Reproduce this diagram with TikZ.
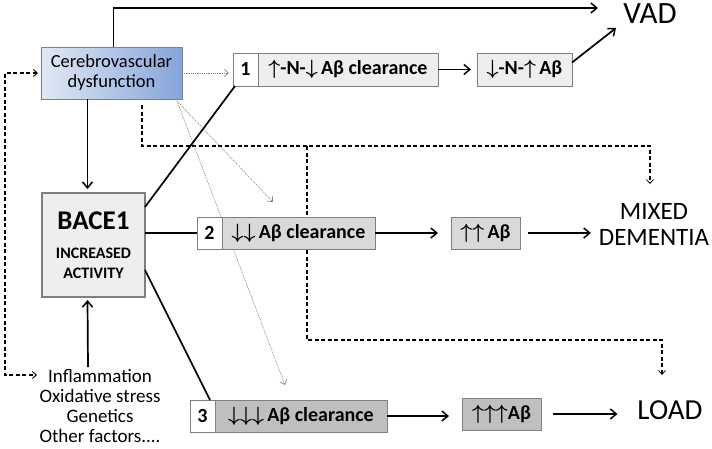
\documentclass[tikz,border=0pt]{standalone}
\usepackage{fontspec}
\setmainfont{Carlito}
\usetikzlibrary{arrows.meta,backgrounds}
\newcommand{\myup}{{\boldmath$\uparrow$}}
\newcommand{\mydn}{{\boldmath$\downarrow$}}
\definecolor{boxline}{HTML}{7F7F7F}
\definecolor{fillA}{HTML}{EEEEEE}
\definecolor{fillB}{HTML}{D9D9D9}
\definecolor{fillC}{HTML}{BFBFBF}
\definecolor{blueL}{HTML}{E0E9F6}
\definecolor{blueR}{HTML}{86A4DA}
\tikzset{
  x=1pt,y=-1pt,
  every node/.style={inner sep=0pt, outer sep=0pt},
  numbox/.style={draw=boxline, line width=0.8pt, fill=white, minimum width=25pt, minimum height=33pt, font=\bfseries\fontsize{20}{22}\selectfont},
  txtbox/.style={draw=boxline, line width=0.8pt, minimum height=33pt, font=\bfseries\fontsize{20}{22}\selectfont},
  outtxt/.style={align=center, font=\fontsize{25}{26}\selectfont},
  conn/.style={line width=1.7pt, -{Straight Barb[length=6pt,width=10pt,line width=1.5pt]}},
  plain/.style={line width=1.7pt},
  dashd/.style={line width=1.1pt, dash pattern=on 4pt off 2.5pt},
  dotd/.style={line width=0.6pt, gray, dash pattern=on 1.2pt off 1pt},
  smalltip/.style={-{Straight Barb[length=4pt,width=7pt,line width=0.7pt]}},
}
\begin{document}
\begin{tikzpicture}
\useasboundingbox (0,0) rectangle (712,448);
% nodes
\node[draw=boxline, line width=0.8pt, left color=blueL, right color=blueR, minimum width=141pt, minimum height=52pt, align=center, font=\fontsize{18.5}{20}\selectfont] (cer) at (111.5,73) {Cerebrovascular\\dysfunction};
\node[numbox] (n1) at (245.5,69.5) {1};
\node[txtbox, fill=fillA, minimum width=180pt] (t1) at (348,69.5) {\myup-N-\mydn\,Aβ clearance};
\node[txtbox, fill=fillA, minimum width=95pt] (r1) at (524.5,69.5) {\mydn-N-\myup\,Aβ};
\node[outtxt, font=\fontsize{31}{32}\selectfont] (vad) at (650,14) {VAD};

\node[draw=boxline, line width=2.2pt, fill=fillA, minimum width=103pt, minimum height=104pt, align=center, font=\bfseries\fontsize{16}{20}\selectfont] (bace) at (93.5,245)
  {\fontsize{27}{20}\selectfont BACE1\\[9pt]\fontsize{16}{20}\selectfont INCREASED\\\fontsize{16}{20}\selectfont ACTIVITY};

\node[numbox, minimum height=32pt] (n2) at (209.5,233) {2};
\node[txtbox, fill=fillB, minimum width=153pt, minimum height=32pt] (t2) at (298.5,233) {\mydn\mydn\,Aβ clearance};
\node[txtbox, fill=fillB, minimum width=69pt, minimum height=32pt] (r2) at (485.5,233) {\myup\myup\,Aβ};
\node[outtxt] (mixed) at (654,224) {MIXED\\DEMENTIA};

\node[numbox, minimum height=32pt] (n3) at (202.5,416) {3};
\node[txtbox, fill=fillC, minimum width=172pt, minimum height=32pt] (t3) at (301,416) {\mydn\mydn\mydn\,Aβ clearance};
\node[txtbox, fill=fillC, minimum width=79pt, minimum height=32pt] (r3) at (501.5,414) {\myup\myup\myup Aβ};
\node[outtxt, font=\fontsize{29}{30}\selectfont] (load) at (670,410) {LOAD};

\node[align=center, font=\fontsize{19}{20}\selectfont, anchor=north] (infl) at (100,369) {Inflammation\\Oxidative stress\\Genetics\\Other factors....};

% coordinates
\coordinate (vadin) at (598,8);
\coordinate (vadsw) at (616,28);
\coordinate (leftc) at (5,0);
\coordinate (inflw) at (37,375);
\coordinate (cerbr) at (177,101);
\coordinate (tipa) at (273,202);
\coordinate (tipb) at (285,385);
\coordinate (mixtop) at (650,184);
\coordinate (loadtop) at (662,375);
\coordinate (dashA) at (142,146);
\coordinate (dashB) at (307,146);
\coordinate (dashC) at (307,340);

% connectors
\draw[conn] ([xshift=2pt]cer.north) |- (vadin);
\draw[dotd, smalltip] (cer.east) -- ([xshift=-4pt]cer.east -| n1.west);
\draw[conn] (t1.east) -- ([xshift=-6pt]r1.west);
\draw[conn] ([yshift=7pt]r1.east) -- (vadsw);
\draw[conn] ([xshift=-6pt]bace.north |- cer.south) -- ([xshift=-6pt,yshift=4pt]bace.north);
\draw[conn] ([xshift=-12pt,yshift=2pt]infl.north) -- ([xshift=-6pt,yshift=-3pt]bace.south);
\draw[plain] ([yshift=38pt]bace.east) -- ([xshift=2pt]n1.south west);
\draw[plain] ([yshift=12pt]bace.east) -- (n2.west);
\draw[plain] ([yshift=-25pt]bace.east) -- ([xshift=-5pt]n3.north east);
\draw[conn] (t2.east) -- ([xshift=-13pt]r2.west);
\draw[conn] ([xshift=8pt]r2.east) -- ([xshift=-8pt]mixed.west |- r2.east);
\draw[conn] (t3.east) -- ([xshift=-13pt,yshift=-2pt]r3.west);
\draw[conn] ([xshift=12pt]r3.east) -- ([xshift=-20pt]load.west |- r3.east);
\draw[dashd, {Straight Barb[length=4pt,width=7pt,line width=0.9pt]}-{Straight Barb[length=4pt,width=7pt,line width=0.9pt]}]
  ([xshift=-3pt]cer.west) -- (leftc |- cer.west) -- (leftc |- inflw) -- (inflw);
\begin{scope}[on background layer]
  \draw[dashd, smalltip] ([xshift=-40pt,yshift=-6pt]cer.south east) -- (dashA) -- (dashA -| mixtop) -- (mixtop);
  \draw[dashd, smalltip] (dashB) -- (dashC) -- (dashC -| loadtop) -- (loadtop);
  \draw[dotd, smalltip] (cerbr) -- (tipa);
  \draw[dotd, smalltip] (cerbr) -- (tipb);
\end{scope}
\end{tikzpicture}
\end{document}
